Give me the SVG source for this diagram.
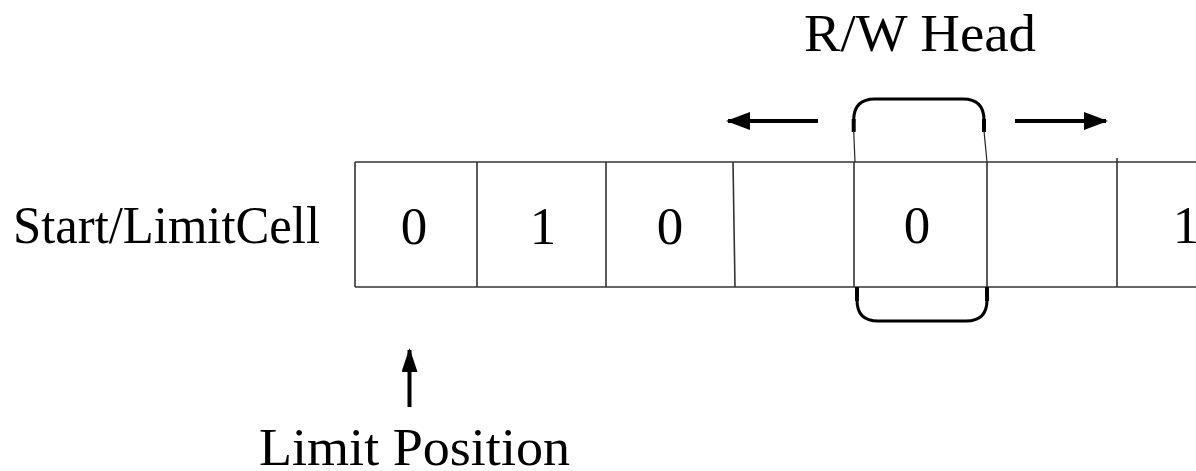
<svg xmlns="http://www.w3.org/2000/svg" width="1196" height="471" viewBox="0 0 1196 471">
  <style>
    .label { font-family: "Liberation Serif", "Times New Roman", serif; fill: #000; }
    .big { font-size: 53px; }
    .digit { font-size: 53px; text-anchor: middle; }
    .tape { stroke: #333; stroke-width: 1.6; fill: none; }
    .head { stroke: #000; stroke-width: 3; fill: none; }
    .stub { stroke: #000; stroke-width: 4; fill: none; }
    .thin { stroke: #222; stroke-width: 1.2; fill: none; }
    .arrow { stroke: #000; stroke-width: 4; fill: none; }
  </style>
  <defs>
    <marker id="tip" viewBox="0 0 24 18" refX="22" refY="9" markerWidth="24" markerHeight="18" markerUnits="userSpaceOnUse" orient="auto">
      <path d="M0,0 L24,9 L0,18 Z" fill="#000"/>
    </marker>
    <marker id="tipSmall" viewBox="0 0 24 16" refX="22" refY="8" markerWidth="24" markerHeight="16" markerUnits="userSpaceOnUse" orient="auto">
      <path d="M0,0 L24,8 L0,16 Z" fill="#000"/>
    </marker>
  </defs>

  <!-- tape: edges and cell dividers -->
  <g id="tape">
    <line class="tape" x1="355" y1="162" x2="1196" y2="162"/>
    <line class="tape" x1="355" y1="287" x2="1196" y2="287"/>
    <line class="tape" x1="355" y1="162" x2="355" y2="287"/>
    <line class="tape" x1="477" y1="162" x2="477" y2="287"/>
    <line class="tape" x1="606" y1="162" x2="606" y2="287"/>
    <line class="tape" x1="733" y1="162" x2="735" y2="287"/>
    <line class="tape" x1="854" y1="162" x2="854" y2="287"/>
    <line class="tape" x1="987" y1="162" x2="987" y2="287"/>
    <line class="tape" x1="1117" y1="158" x2="1117" y2="287"/>
  </g>

  <!-- cell contents -->
  <g id="cells">
    <text class="label digit" x="414" y="244">0</text>
    <text class="label digit" x="543" y="244">1</text>
    <text class="label digit" x="670" y="244">0</text>
    <text class="label digit" x="917" y="243">0</text>
    <text class="label digit" x="1186" y="243">1</text>
  </g>

  <!-- read/write head -->
  <g id="rw-head">
    <path class="head" d="M853.7,122 L853.7,120 Q853.7,99 875,99 L963,99 Q984,99 984,120 L984,122"/>
    <line class="stub" x1="853.7" y1="119" x2="853.7" y2="132"/>
    <line class="stub" x1="984" y1="119" x2="984" y2="132"/>
    <line class="thin" x1="853.7" y1="131" x2="855" y2="162"/>
    <line class="thin" x1="984" y1="131" x2="987" y2="162"/>
    <path class="head" d="M857,298 L857,300 Q857,321 878,321 L966,321 Q987,321 987,300 L987,298"/>
    <line class="stub" x1="857" y1="287" x2="857" y2="301"/>
    <line class="stub" x1="987" y1="287" x2="987" y2="301"/>
    <text class="label big" x="804" y="51" textLength="232" lengthAdjust="spacingAndGlyphs">R/W Head</text>
  </g>

  <g id="start-label">
    <text class="label big" x="13" y="243" textLength="307" lengthAdjust="spacingAndGlyphs">Start/LimitCell</text>
  </g>

  <g id="limit-label">
    <text class="label big" x="259" y="465" textLength="311" lengthAdjust="spacingAndGlyphs">Limit Position</text>
  </g>

  <!-- movement and pointer arrows -->
  <g id="connectors">
    <line class="arrow" x1="818" y1="121" x2="728" y2="121" marker-end="url(#tip)"/>
    <line class="arrow" x1="1015" y1="121" x2="1106" y2="121" marker-end="url(#tip)"/>
    <line class="arrow" x1="409.5" y1="407" x2="409.5" y2="350" stroke-width="3" marker-end="url(#tipSmall)"/>
  </g>
</svg>
